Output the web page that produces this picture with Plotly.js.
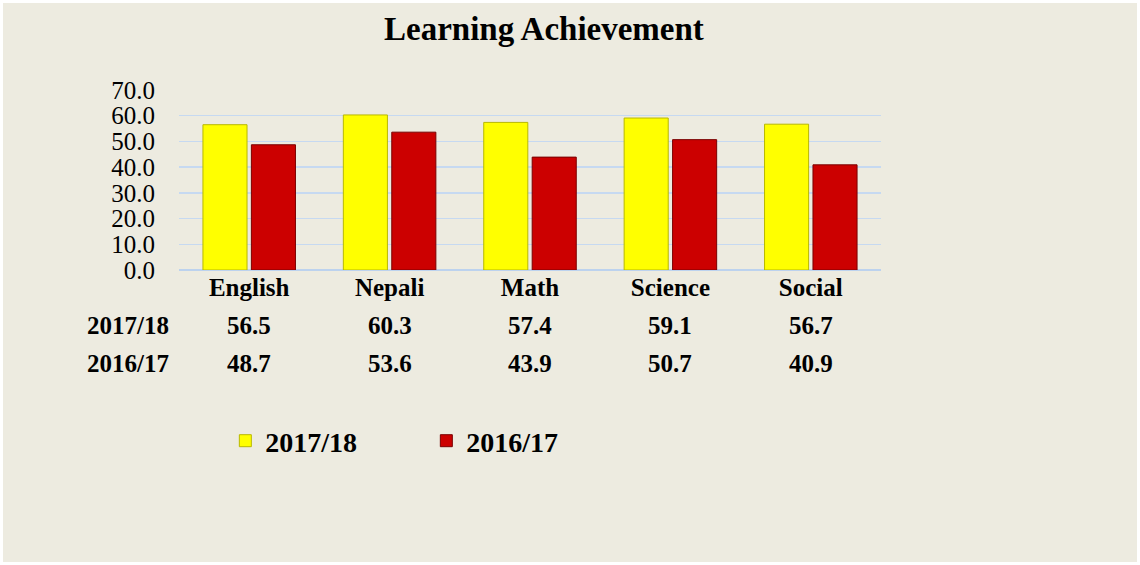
<!DOCTYPE html>
<html>
<head>
<meta charset="utf-8">
<script src="https://cdn.plot.ly/plotly-3.0.1.min.js"></script>
<style>
  html, body { margin: 0; padding: 0; background: #ffffff; }
  #chart { position: absolute; left: 3px; top: 3px; width: 1134px; height: 559px; }
</style>
</head>
<body>
<div id="chart"></div>
<script>
const subjects = ["English", "Nepali", "Math", "Science", "Social"];
const seriesNames = ["2017/18", "2016/17"];
const values2017_18 = [56.5, 60.3, 57.4, 59.1, 56.7];
const values2016_17 = [48.7, 53.6, 43.9, 50.7, 40.9];
const yTickVals = [0, 10, 20, 30, 40, 50, 60, 70];

const serif = "'Liberation Serif', 'Times New Roman', serif";

const traces = [
  {
    type: "bar", name: seriesNames[0], x: subjects, y: values2017_18,
    marker: { color: "#FFFF00", line: { color: "#B8B800", width: 1 } },
    hoverinfo: "x+y"
  },
  {
    type: "bar", name: seriesNames[1], x: subjects, y: values2016_17,
    marker: { color: "#CC0000", line: { color: "#7A0000", width: 1 } },
    hoverinfo: "x+y"
  }
];

const rows = [values2017_18, values2016_17];
const rowY = [-0.31, -0.522];
const annotations = [];
rows.forEach((vals, r) => {
  annotations.push({
    xref: "paper", yref: "paper", x: -0.012, y: rowY[r],
    xanchor: "right", yanchor: "middle", showarrow: false,
    text: "<b>" + seriesNames[r] + "</b>",
    font: { family: serif, size: 25, color: "#000" }
  });
  vals.forEach((v, i) => {
    annotations.push({
      xref: "x", yref: "paper", x: subjects[i], y: rowY[r],
      xanchor: "center", yanchor: "middle", showarrow: false,
      text: "<b>" + v.toFixed(1) + "</b>",
      font: { family: serif, size: 25, color: "#000" }
    });
  });
});

const layout = {
  width: 1134, height: 559,
  paper_bgcolor: "#EDEBE0",
  plot_bgcolor: "rgba(0,0,0,0)",
  margin: { l: 176, r: 256, t: 87, b: 292, pad: 0 },
  title: {
    text: "<b>Learning Achievement</b>",
    font: { family: serif, size: 33, color: "#000" },
    x: 0.477, xanchor: "center", xref: "container",
    y: 0.955, yanchor: "middle", yref: "container"
  },
  barmode: "group",
  bargap: 0.31,
  bargroupgap: 0.09,
  xaxis: {
    type: "category",
    showgrid: false, zeroline: false, showline: false,
    ticks: "",
    tickfont: { family: serif, size: 25, color: "#000", weight: "bold" }
  },
  yaxis: {
    range: [0, 70],
    tickvals: yTickVals,
    ticktext: yTickVals.map(v => v.toFixed(1)),
    showgrid: true, gridcolor: "#C6D9F1", gridwidth: 1.5,
    zeroline: true, zerolinecolor: "#BCD2EE", zerolinewidth: 2.5,
    showline: false,
    ticks: "outside", ticklen: 18, tickcolor: "rgba(0,0,0,0)",
    tickfont: { family: serif, size: 25, color: "#000" }
  },
  showlegend: true,
  legend: {
    orientation: "h",
    x: 0.066, xanchor: "left", xref: "paper",
    y: -0.95, yanchor: "middle", yref: "paper",
    entrywidth: 156, entrywidthmode: "pixels",
    bgcolor: "rgba(0,0,0,0)",
    font: { family: serif, size: 28, color: "#000", weight: "bold" },
    traceorder: "normal"
  },
  annotations: annotations
};

Plotly.newPlot("chart", traces, layout, { displayModeBar: false, staticPlot: true });
</script>
</body>
</html>
